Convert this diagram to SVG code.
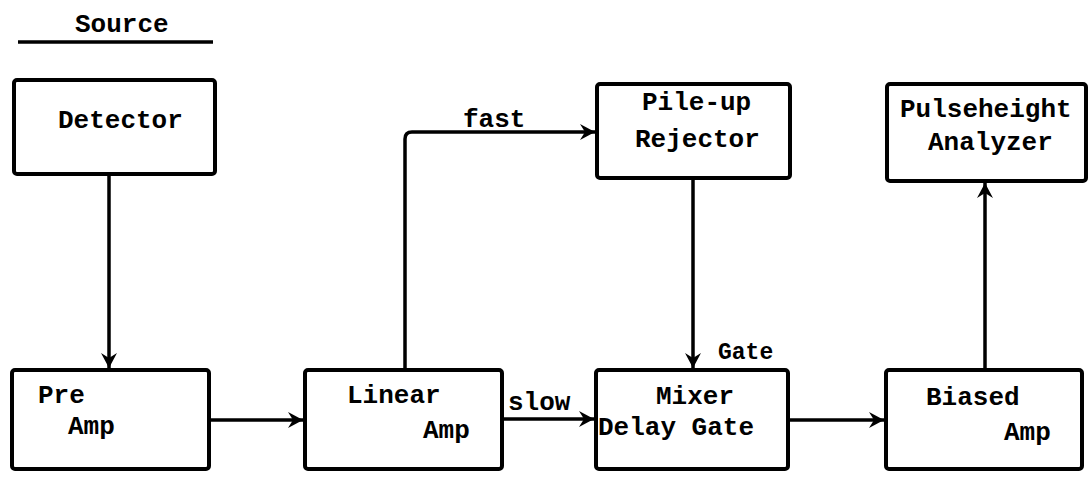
<svg xmlns="http://www.w3.org/2000/svg" width="1090" height="478" viewBox="0 0 1090 478">
<style>
.box{fill:#fff;stroke:#000;stroke-width:4}
.lbl{font-family:"Liberation Mono","Courier New",monospace;font-weight:bold;font-size:26px;fill:#000}
.small{font-size:23px}
.conn{fill:none;stroke:#000;stroke-width:3.5}
</style>
<defs>
<marker id="ah" markerUnits="userSpaceOnUse" markerWidth="22" markerHeight="22" refX="15" refY="9" orient="auto">
<path d="M0,1 L15,9 L0,17 L5,9 Z" fill="#000"/>
</marker>
</defs>
<rect width="1090" height="478" fill="#fff"/>
<g id="source-title">
<text class="lbl" x="75" y="32">Source</text>
<line x1="18" y1="42" x2="213" y2="42" stroke="#000" stroke-width="3.5"/>
</g>
<g id="connectors">
<line class="conn" x1="109" y1="174" x2="109" y2="368" marker-end="url(#ah)"/>
<line class="conn" x1="209" y1="420" x2="303" y2="420" marker-end="url(#ah)"/>
<line class="conn" x1="502" y1="419" x2="594" y2="419" marker-end="url(#ah)"/>
<path class="conn" d="M405,370 V139 Q405,132 412,132 H595" marker-end="url(#ah)"/>
<line class="conn" x1="693" y1="178" x2="693" y2="368" marker-end="url(#ah)"/>
<line class="conn" x1="788" y1="420" x2="884" y2="420" marker-end="url(#ah)"/>
<line class="conn" x1="985" y1="370" x2="985" y2="183" marker-end="url(#ah)"/>
<text class="lbl" x="463" y="127">fast</text>
<text class="lbl" x="508" y="410">slow</text>
<text class="lbl small" x="718" y="359">Gate</text>
</g>
<g id="detector">
<rect class="box" x="14" y="80" width="201" height="94" rx="3"/>
<text class="lbl" x="58" y="128">Detector</text>
</g>
<g id="pile-up-rejector">
<rect class="box" x="597" y="84" width="193" height="94" rx="3"/>
<text class="lbl" x="642" y="110">Pile-up</text>
<text class="lbl" x="635" y="147">Rejector</text>
</g>
<g id="pulseheight-analyzer">
<rect class="box" x="887" y="84" width="199" height="97" rx="3"/>
<text class="lbl" x="900" y="117">Pulseheight</text>
<text class="lbl" x="928" y="150">Analyzer</text>
</g>
<g id="pre-amp">
<rect class="box" x="12" y="370" width="197" height="99" rx="3"/>
<text class="lbl" x="38" y="403">Pre</text>
<text class="lbl" x="68" y="434">Amp</text>
</g>
<g id="linear-amp">
<rect class="box" x="305" y="370" width="197" height="99" rx="3"/>
<text class="lbl" x="347" y="403">Linear</text>
<text class="lbl" x="423" y="438">Amp</text>
</g>
<g id="mixer-delay-gate">
<rect class="box" x="596" y="370" width="192" height="99" rx="3"/>
<text class="lbl" x="656" y="404">Mixer</text>
<text class="lbl" x="598" y="435">Delay Gate</text>
</g>
<g id="biased-amp">
<rect class="box" x="886" y="370" width="196" height="99" rx="3"/>
<text class="lbl" x="926" y="405">Biased</text>
<text class="lbl" x="1004" y="440">Amp</text>
</g>
</svg>
